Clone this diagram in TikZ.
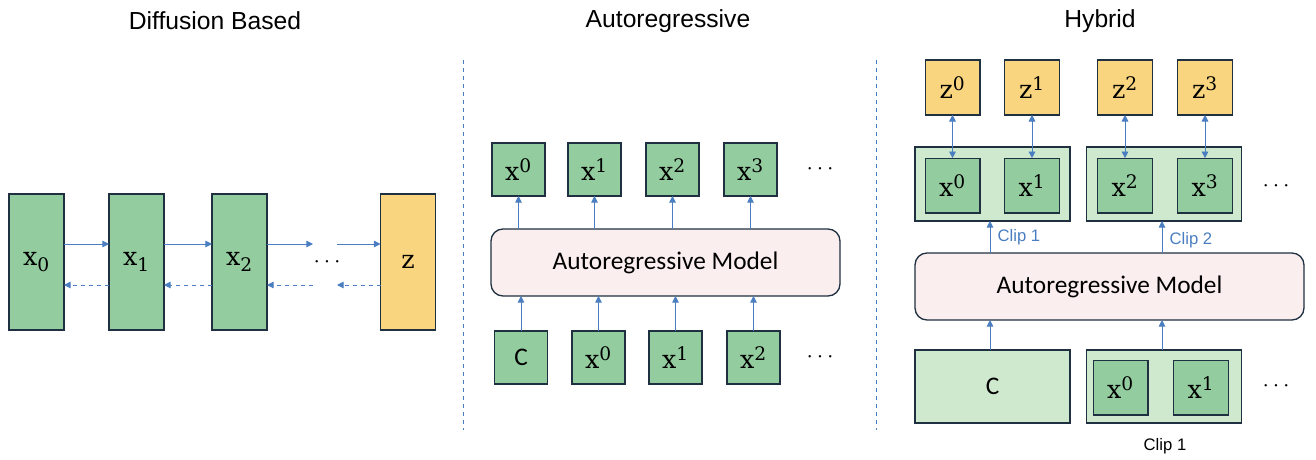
\documentclass[tikz,border=0pt]{standalone}
\usepackage{fontspec}
\setmainfont{Liberation Sans}
\newfontfamily\calib{Carlito}
\newfontfamily\lab{DejaVu Serif}
\usetikzlibrary{arrows.meta}
\definecolor{boxgreen}{HTML}{93CD9F}
\definecolor{lightgreen}{HTML}{CFE9CF}
\definecolor{boxyellow}{HTML}{F8D57E}
\definecolor{modelpink}{HTML}{FBEEEE}
\definecolor{edgedark}{HTML}{1F3040}
\definecolor{arrowblue}{HTML}{4A7EC0}
\newcommand\suplab[2]{{\lab #1\textsuperscript{\fontsize{14}{14}\selectfont #2}}}
\begin{document}
\begin{tikzpicture}[x=0.75pt,y=-0.75pt,
  box/.style={draw=edgedark,line width=1pt,inner sep=0pt,outer sep=0pt,font=\lab\fontsize{19}{20}\selectfont},
  gbox/.style={box,fill=boxgreen,minimum width=41pt,minimum height=41pt},
  ybox/.style={box,fill=boxyellow,minimum width=41pt,minimum height=41pt},
  clipbox/.style={box,fill=lightgreen,minimum width=116.25pt,minimum height=55.5pt},
  model/.style={box,fill=modelpink,rounded corners=9pt,minimum height=50.25pt,font=\calib\fontsize{19}{20}\selectfont},
  arr/.style={arrowblue,line width=0.7pt,-{Triangle[length=5pt,width=5pt]}},
  darr/.style={arr,{Triangle[length=5pt,width=5pt]}-{Triangle[length=5pt,width=5pt]}},
  back/.style={arr,dashed},
  title/.style={font=\fontsize{18.5}{19}\selectfont},
  cliplabel/.style={font=\fontsize{12.5}{13}\selectfont},
  dots/.style={font=\bfseries\fontsize{17}{18}\selectfont}]
\useasboundingbox (0,0) rectangle (1316,460);

% titles and dividers
\node[title] (t1) at (215,21) {Diffusion Based};
\node[title] (t2) at (668,21) {Autoregressive};
\node[title] (t3) at (1100,21) {Hybrid};
\draw[arrowblue,dashed,line width=0.5pt] (463,60) -- (463,430);
\draw[arrowblue,dashed,line width=0.5pt] (876,60) -- (876,430);

% diffusion
\node[box,fill=boxgreen,minimum width=41.25pt,minimum height=102pt] (d0) at (36.5,262) {x\textsubscript{\fontsize{14}{14}\selectfont 0}};
\node[box,fill=boxgreen,minimum width=41.25pt,minimum height=102pt] (d1) at (136.5,262) {x\textsubscript{\fontsize{14}{14}\selectfont 1}};
\node[box,fill=boxgreen,minimum width=41.25pt,minimum height=102pt] (d2) at (239.5,262) {x\textsubscript{\fontsize{14}{14}\selectfont 2}};
\node[box,fill=boxyellow,minimum width=41.25pt,minimum height=102pt] (dz) at (408,262) {z};
\node[dots] (dd) at (327,262) {$\cdots$};
\coordinate (a1) at (313,244);
\coordinate (a2) at (337,244);
\coordinate (b1) at (313,285);
\coordinate (b2) at (337,285);
\draw[arr] (d0.east|-a1) -- (d1.west|-a1);
\draw[arr] (d1.east|-a1) -- (d2.west|-a1);
\draw[arr] (d2.east|-a1) -- (a1);
\draw[arr] (a2) -- (dz.west|-a2);
\draw[back] (d1.west|-b1) -- (d0.east|-b1);
\draw[back] (d2.west|-b1) -- (d1.east|-b1);
\draw[back] (b1) -- (d2.east|-b1);
\draw[back] (dz.west|-b2) -- (b2);

% autoregressive
\node[model,minimum width=261.75pt] (arm) at (665.5,262.5) {Autoregressive Model};
\foreach \i/\x in {0/518.5,1/594.5,2/672.5,3/750.5}{
  \node[gbox,minimum width=39.75pt,minimum height=39.75pt] (o\i) at (\x,169.5) {\suplab{x}{\i}};
  \draw[arr] (arm.north-|o\i) -- (o\i);
}
\node[gbox,minimum width=39.75pt,minimum height=39.75pt,font=\calib\fontsize{19}{20}\selectfont] (ic) at (521,357.5) {C};
\foreach \i/\x in {0/598.5,1/675.5,2/753.5}{
  \node[gbox,minimum width=39.75pt,minimum height=39.75pt] (i\i) at (\x,357.5) {\suplab{x}{\i}};
}
\foreach \n in {ic,i0,i1,i2}{
  \draw[arr] (\n) -- (arm.south-|\n);
}
\node[dots] (ad1) at (820,169) {$\cdots$};
\node[dots] (ad2) at (820,357) {$\cdots$};

% hybrid
\node[model,minimum width=291.75pt] (hm) at (1109.5,286.5) {Autoregressive Model};
\node[clipbox] (c1) at (992.5,184) {};
\node[clipbox] (c2) at (1164,184) {};
\foreach \i/\x in {0/952.5,1/1032,2/1125,3/1205}{
  \node[gbox] (h\i) at (\x,185.5) {\suplab{x}{\i}};
  \node[ybox] (z\i) at (\x,87.5) {\suplab{z}{\i}};
  \draw[darr] (z\i) -- (h\i);
}
\node[dots] (hd1) at (1276,186) {$\cdots$};
\coordinate (u1) at (990,0);
\coordinate (u2) at (1162,0);
\draw[arr] (hm.north-|u1) -- (c1.south-|u1) node[cliplabel,pos=0.5,right=2pt] {Clip 1};
\draw[arr] (hm.north-|u2) -- (c2.south-|u2) node[cliplabel,pos=0.4,right=2pt] {Clip 2};
\node[clipbox,minimum height=54.75pt,font=\calib\fontsize{19}{20}\selectfont] (hc) at (992.5,386.5) {C};
\node[clipbox,minimum height=54.75pt] (hb) at (1164,386.5) {};
\node[gbox] (hx0) at (1120.5,387.5) {\suplab{x}{0}};
\node[gbox] (hx1) at (1201,387.5) {\suplab{x}{1}};
\node[dots] (hd2) at (1276,386) {$\cdots$};
\node[cliplabel] (hcl) at (1165,446) {Clip 1};
\draw[arr] (hc.north-|u1) -- (hm.south-|u1);
\draw[arr] (hb.north-|u2) -- (hm.south-|u2);
\end{tikzpicture}
\end{document}
